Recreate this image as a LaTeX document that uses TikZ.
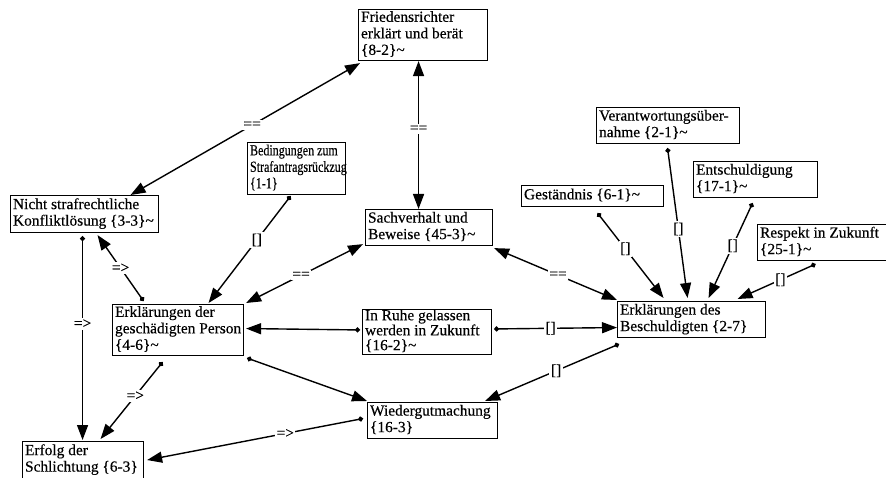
\documentclass[tikz,border=0pt]{standalone}
\usepackage{fontspec}
\usepackage{graphicx}
\setmainfont{Liberation Serif}[FakeBold=0.35]
\usetikzlibrary{arrows.meta}
\newcommand\boxtext[2]{\makebox[#1][l]{\begin{tabular}{@{}l@{}}#2\end{tabular}}}
\begin{document}
\begin{tikzpicture}[x=1pt,y=-1pt,
  tri/.tip={Triangle[length=15pt,width=11pt]},
  dt/.tip={Circle[length=5pt]},
  box/.style={draw,line width=1.1pt,anchor=north west,inner xsep=2.5pt,inner ysep=0pt,font=\fontsize{15.4}{16.5}\selectfont},
  con/.style={line width=1.4pt},
  lab/.style={fill=white,inner sep=1.5pt,font=\fontsize{15.4}{15}\selectfont}]
\useasboundingbox (0,0) rectangle (886,478);
% boxes
\node[box,minimum width=129pt,minimum height=51pt] (fr) at (358,9) {\boxtext{124pt}{Friedensrichter\\erklärt und berät\\\{8-2\}\textasciitilde}};
\node[box,minimum width=98pt,minimum height=52pt] (bed) at (247,142) {\makebox[93pt][l]{\scalebox{0.78}[1]{\begin{tabular}{@{}l@{}}Bedingungen zum\\Strafantragsrückzug\\\{1-1\}\end{tabular}}}};
\node[box,minimum width=148pt,minimum height=37pt] (nsk) at (10,195) {\boxtext{143pt}{Nicht strafrechtliche\\Konfliktlösung \{3-3\}\textasciitilde}};
\node[box,minimum width=127pt,minimum height=36pt] (sach) at (365,209) {\boxtext{122pt}{Sachverhalt und\\Beweise \{45-3\}\textasciitilde}};
\node[box,minimum width=143pt,minimum height=36pt] (ver) at (596,107) {\boxtext{138pt}{Verantwortungsüber-\\nahme \{2-1\}\textasciitilde}};
\node[box,minimum width=124pt,minimum height=36pt] (ent) at (693,161) {\boxtext{119pt}{Entschuldigung\\\{17-1\}\textasciitilde}};
\node[box,minimum width=142pt,minimum height=21pt] (ges) at (521,185) {\boxtext{137pt}{Geständnis \{6-1\}\textasciitilde}};
\node[box,minimum width=135pt,minimum height=36pt] (res) at (757,224) {\boxtext{130pt}{Respekt in Zukunft\\\{25-1\}\textasciitilde}};
\node[box,minimum width=148pt,minimum height=36pt] (besch) at (617,301) {\boxtext{143pt}{Erklärungen des\\Beschuldigten \{2-7\}}};
\node[box,minimum width=129pt,minimum height=42pt,font=\fontsize{15.4}{14}\selectfont] (ruhe) at (362,309) {\boxtext{124pt}{In Ruhe gelassen\\werden in Zukunft\\\{16-2\}\textasciitilde}};
\node[box,minimum width=131pt,minimum height=51pt] (erg) at (112,304) {\boxtext{126pt}{Erklärungen der\\geschädigten Person\\\{4-6\}\textasciitilde}};
\node[box,minimum width=130pt,minimum height=36pt] (wg) at (367,402) {\boxtext{125pt}{Wiedergutmachung\\\{16-3\}}};
\node[box,minimum width=121pt,minimum height=37pt] (erf) at (22,441) {\boxtext{116pt}{Erfolg der\\Schlichtung \{6-3\}}};
% connectors
\draw[con,tri-tri] ([shift={(46,0)}]nsk.north) -- node[lab,pos=0.53]{==} ([shift={(2,2)}]fr.south west);
\draw[con,tri-tri] ([shift={(-4.5,0)}]fr.south) -- node[lab,pos=0.46]{==} ([shift={(-10.5,0)}]sach.north);
\draw[con,dt-tri] ([shift={(-6,1)}]bed.south) -- node[lab,pos=0.41]{[]} ([shift={(30.5,-1)}]erg.north);
\draw[con,dt-tri] ([shift={(-34.5,-3)}]erg.north) -- node[lab,pos=0.5]{=>} ([shift={(13,2)}]nsk.south);
\draw[con,dt-tri] ([shift={(-2,3)}]nsk.south) -- node[lab,pos=0.43]{=>} ([shift={(-0.5,-1)}]erf.north);
\draw[con,tri-tri] ([shift={(2,-1)}]erg.north east) -- node[lab,pos=0.47]{==} ([shift={(-2,-2)}]sach.south west);
\draw[con,dt-tri] ([shift={(-2,-2)}]ruhe.west) -- ([shift={(2,-1.5)}]erg.east);
\draw[con,dt-tri] ([shift={(3,2)}]erg.south east) -- ([shift={(0,-1)}]wg.north west);
\draw[con,dt-tri] ([shift={(-15.5,6)}]erg.south) -- node[lab,pos=0.44]{=>} ([shift={(17.5,-2)}]erf.north);
\draw[con,dt-tri] ([shift={(-4,-2)}]wg.west) -- node[lab,pos=0.36]{=>} ([shift={(3,0)}]erf.east);
\draw[con,tri-tri] ([shift={(1,2)}]sach.south east) -- node[lab,pos=0.52]{==} ([shift={(0,-1)}]besch.north west);
\draw[con,dt-tri] ([shift={(2,-3)}]ruhe.east) -- node[lab,pos=0.46]{[]} ([shift={(0,8)}]besch.west);
\draw[con,dt-tri] ([shift={(5,6)}]ges.south) -- node[lab,pos=0.42]{[]} ([shift={(-28,-3)}]besch.north);
\draw[con,dt-tri] ([shift={(-0.5,4)}]ver.south) -- node[lab,pos=0.54]{[]} ([shift={(-4,-3)}]besch.north);
\draw[con,dt-tri] ([shift={(-3,5)}]ent.south) -- node[lab,pos=0.45]{[]} ([shift={(17,-3)}]besch.north);
\draw[con,dt-tri] ([shift={(-9.5,3)}]res.south) -- node[lab,pos=0.45]{[]} ([shift={(46,-2)}]besch.north);
\draw[con,dt-tri] ([shift={(2,6)}]besch.south west) -- node[lab,pos=0.47]{[]} ([shift={(-13,-1)}]wg.north east);
\end{tikzpicture}
\end{document}
